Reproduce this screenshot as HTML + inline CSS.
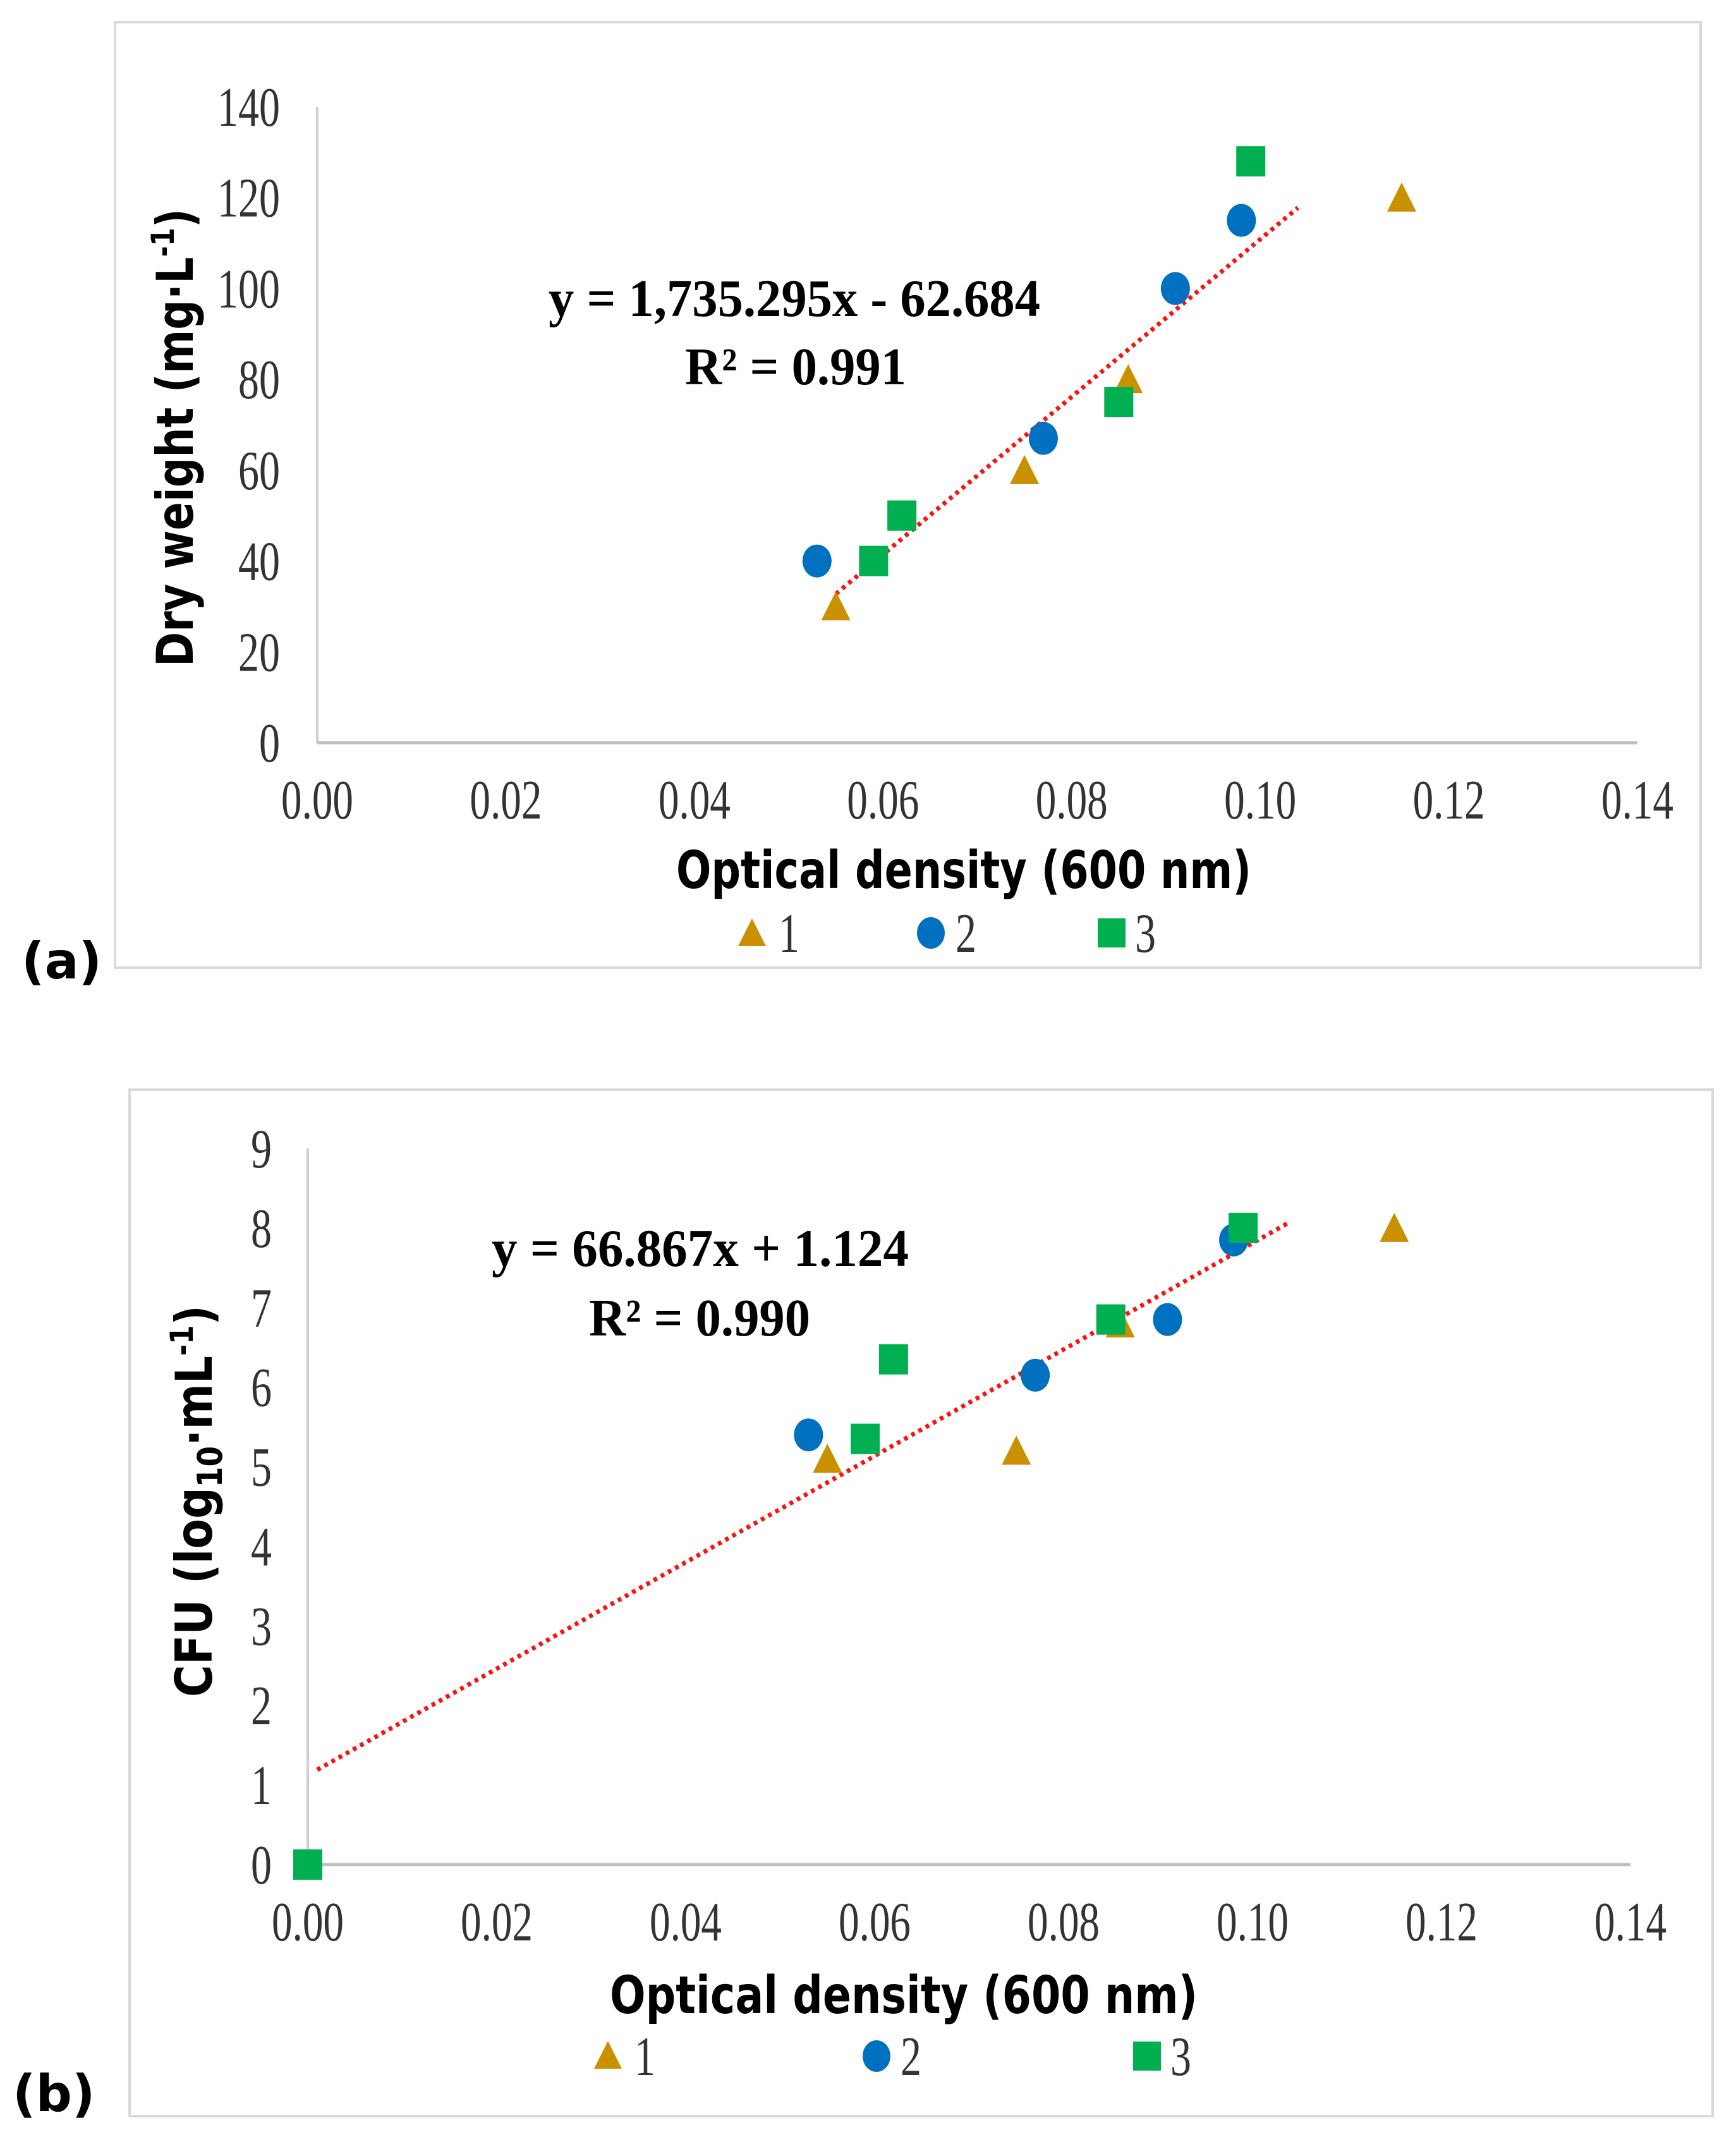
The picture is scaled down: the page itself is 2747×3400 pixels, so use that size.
<!DOCTYPE html>
<html><head><meta charset="utf-8"><style>
html,body{margin:0;padding:0;background:#fff}
svg{display:block}
.tick{font-family:"Liberation Serif",serif;font-size:88px;fill:#333}
.title{font-family:"DejaVu Sans","Liberation Sans",sans-serif;font-weight:bold;fill:#000}
.eq{font-family:"Liberation Serif",serif;font-weight:bold;font-size:84px;fill:#000}
</style></head><body>
<svg id="chart" width="2747" height="3400" viewBox="0 0 2747 3400" xmlns="http://www.w3.org/2000/svg" style="position:absolute;left:0;top:0">
<rect x="182" y="35" width="2509" height="1496" fill="#fff" stroke="#D9D9D9" stroke-width="4"/>
<rect x="205" y="1724" width="2505" height="1624" fill="#fff" stroke="#D9D9D9" stroke-width="4"/>
<g id="pa"></g>
<g id="pb"></g>
</svg>
<script>
const NS="http://www.w3.org/2000/svg";
const xTicks=[0,0.02,0.04,0.06,0.08,0.10,0.12,0.14];
const xTickLabels=["0.00","0.02","0.04","0.06","0.08","0.10","0.12","0.14"];
const aYTicks=[0,20,40,60,80,100,120,140];
const aS1x=[0.055,0.075,0.086,0.115], aS1y=[30,60,80,120];
const aS2x=[0.053,0.077,0.091,0.098], aS2y=[40,67,100,115];
const aS3x=[0.059,0.062,0.085,0.099], aS3y=[40,50,75,128];
const aSlope=1735.295, aIntercept=-62.684, aTrendX=[0.055,0.104];
const bYTicks=[0,1,2,3,4,5,6,7,8,9];
const bS1x=[0.055,0.075,0.086,0.115], bS1y=[5.1,5.2,6.8,8.0];
const bS2x=[0.053,0.077,0.091,0.098], bS2y=[5.4,6.15,6.85,7.85];
const bS3x=[0,0.059,0.062,0.085,0.099], bS3y=[0,5.35,6.35,6.85,8.0];
const bSlope=66.867, bIntercept=1.124, bTrendX=[0.001,0.104];

function mk(tag,attrs,parent,text){const e=document.createElementNS(NS,tag);for(const k in attrs)e.setAttribute(k,attrs[k]);if(text!==undefined)e.textContent=text;parent.appendChild(e);return e;}
function tlen(s){let w=0;for(const c of s)w+=(c==='.')?15:33;return w;}

function panel(g,cfg){
  const X=v=>cfg.x0+(v-0)/(0.14)*(cfg.x1-cfg.x0);
  const Y=v=>cfg.y0-(v/cfg.ymax)*(cfg.y0-cfg.y1);
  let e=mk('line',{x1:X(0),y1:cfg.y1,x2:X(0),y2:cfg.y0,stroke:'#D0D0D0','stroke-width':4},g);
  
  e=mk('line',{x1:X(0),y1:cfg.y0,x2:cfg.x1,y2:cfg.y0,stroke:'#BFBFBF','stroke-width':5},g);
  
  cfg.yTicks.forEach(v=>{const s=String(v);const t=mk('text',{x:cfg.ylx,y:Y(v)+30,'text-anchor':'end',class:'tick',textLength:tlen(s),lengthAdjust:'spacingAndGlyphs'},g,s);
    });
  xTicks.forEach((v,i)=>{const s=xTickLabels[i];const t=mk('text',{x:X(v)-tlen(s)/2,y:cfg.y0+120,class:'tick',textLength:tlen(s),lengthAdjust:'spacingAndGlyphs'},g,s);
    });
  const tr=mk('line',{x1:X(cfg.tx[0]),y1:Y(cfg.slope*cfg.tx[0]+cfg.icpt),x2:X(cfg.tx[1]),y2:Y(cfg.slope*cfg.tx[1]+cfg.icpt),stroke:'#FF1010','stroke-width':7,'stroke-dasharray':'6 7'},g);
  
  cfg.s2x.forEach((v,i)=>{const c=mk('ellipse',{cx:X(v),cy:Y(cfg.s2y[i]),rx:23,ry:26,fill:'#0070C0'},g);
    });
  cfg.s1x.forEach((v,i)=>{const x=X(v),y=Y(cfg.s1y[i]);const p=mk('polygon',{points:`${x},${y-24} ${x-23},${y+22} ${x+23},${y+22}`,fill:'#C99000'},g);
    });
  cfg.s3x.forEach((v,i)=>{const r=mk('rect',{x:X(v)-23,y:Y(cfg.s3y[i])-24,width:46,height:48,fill:'#00B050'},g);
    });
}
const pa=document.getElementById('pa'), pb=document.getElementById('pb');
panel(pa,{x0:502,x1:2591,y0:1175,y1:169,ymax:140,ylx:443,yTicks:aYTicks,s1x:aS1x,s1y:aS1y,s2x:aS2x,s2y:aS2y,s3x:aS3x,s3y:aS3y,slope:aSlope,icpt:aIntercept,tx:aTrendX});
panel(pb,{x0:487,x1:2580,y0:2950,y1:1817,ymax:9,ylx:430,yTicks:bYTicks,s1x:bS1x,s1y:bS1y,s2x:bS2x,s2y:bS2y,s3x:bS3x,s3y:bS3y,slope:bSlope,icpt:bIntercept,tx:bTrendX});
</script>
<div style="position:absolute;left:0;top:0;width:2747px;height:3400px;pointer-events:none">
<svg width="2747" height="3400" xmlns="http://www.w3.org/2000/svg">
<text class="eq" x="868" y="500" textLength="778" lengthAdjust="spacingAndGlyphs">y = 1,735.295x - 62.684</text>
<text class="eq" x="1084" y="608" textLength="350" lengthAdjust="spacingAndGlyphs">R² = 0.991</text>
<text class="title" font-size="80" transform="translate(305,1055) rotate(-90)" textLength="725" lengthAdjust="spacingAndGlyphs">Dry weight (mg·L<tspan font-size="50" dy="-30">-1</tspan><tspan dy="30">)</tspan></text>
<text class="title" font-size="82" x="1070" y="1405" textLength="910" lengthAdjust="spacingAndGlyphs">Optical density (600 nm)</text>
<g>
<polygon points="1190,1453 1168,1497 1212,1497" fill="#C99000"/>
<text class="tick" x="1232" y="1506" textLength="33" lengthAdjust="spacingAndGlyphs">1</text>
<ellipse cx="1473" cy="1476" rx="22" ry="25" fill="#0070C0"/>
<text class="tick" x="1512" y="1506" textLength="33" lengthAdjust="spacingAndGlyphs">2</text>
<rect x="1737" y="1453" width="44" height="46" fill="#00B050"/>
<text class="tick" x="1796" y="1506" textLength="33" lengthAdjust="spacingAndGlyphs">3</text>
</g>
<text class="title" font-size="80" x="34" y="1548">(a)</text>

<text class="eq" x="778" y="2003" textLength="660" lengthAdjust="spacingAndGlyphs">y = 66.867x + 1.124</text>
<text class="eq" x="932" y="2113" textLength="350" lengthAdjust="spacingAndGlyphs">R² = 0.990</text>
<text class="title" font-size="80" transform="translate(335,2685) rotate(-90)" textLength="620" lengthAdjust="spacingAndGlyphs">CFU (log<tspan font-size="54" dy="16">10</tspan><tspan dy="-16">·mL</tspan><tspan font-size="50" dy="-30">-1</tspan><tspan dy="30">)</tspan></text>
<text class="title" font-size="82" x="965" y="3185" textLength="930" lengthAdjust="spacingAndGlyphs">Optical density (600 nm)</text>
<g>
<polygon points="962,3229 940,3273 984,3273" fill="#C99000"/>
<text class="tick" x="1004" y="3283" textLength="33" lengthAdjust="spacingAndGlyphs">1</text>
<ellipse cx="1387" cy="3253" rx="22" ry="25" fill="#0070C0"/>
<text class="tick" x="1425" y="3283" textLength="33" lengthAdjust="spacingAndGlyphs">2</text>
<rect x="1793" y="3230" width="44" height="46" fill="#00B050"/>
<text class="tick" x="1852" y="3283" textLength="33" lengthAdjust="spacingAndGlyphs">3</text>
</g>
<text class="title" font-size="80" x="20" y="3340">(b)</text>
</svg></div>
</body></html>
